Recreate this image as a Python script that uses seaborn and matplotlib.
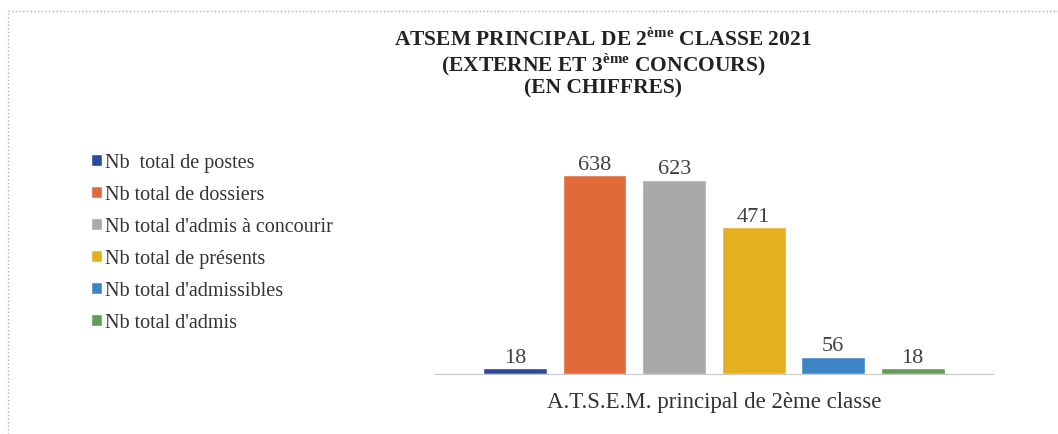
import pandas as pd
import seaborn as sns
import matplotlib.pyplot as plt
from matplotlib.lines import Line2D

# Donnees
categorie = ["A.T.S.E.M. principal de 2ème classe"]
series = ["Nb  total de postes", "Nb total de dossiers", "Nb total d'admis à concourir",
          "Nb total de présents", "Nb total d'admissibles", "Nb total d'admis"]
valeurs = [18, 638, 623, 471, 56, 18]
couleurs = ["#2B4A9B", "#E2693A", "#A9A9A9", "#E5B01F", "#3D84C6", "#5E9E55"]

df = pd.DataFrame({"categorie": categorie * len(series), "serie": series, "valeur": valeurs})

sns.set_style("white")
plt.rcParams['font.family'] = ['Liberation Serif', 'DejaVu Serif']
plt.rcParams['mathtext.fontset'] = 'custom'
plt.rcParams['mathtext.rm'] = 'Liberation Serif'
plt.rcParams['mathtext.bf'] = 'Liberation Serif:bold'

fig = plt.figure(figsize=(10.58, 4.35), dpi=100)
ax = fig.add_axes([0.411, 0.138, 0.5276, 0.5018])

sns.barplot(data=df, x="categorie", y="valeur", hue="serie", hue_order=series,
            palette=couleurs, width=0.8, gap=0.2, saturation=1, ax=ax)

for c in ax.containers:
    ax.bar_label(c, fontsize=16, padding=1, color="#404040")

ax.set_xlim(-0.468, 0.468)
ax.set_ylim(0, 700)
ax.set_xlabel("")
ax.set_ylabel("")
ax.set_yticks([])
ax.tick_params(axis="x", length=0, labelsize=16.5, pad=12, labelcolor="#333333")
for s in ["top", "right", "left"]:
    ax.spines[s].set_visible(False)
ax.spines["bottom"].set_color("#c8c8c8")

sns.move_legend(ax, "upper left", bbox_to_anchor=(0.0685, 0.6865), bbox_transform=fig.transFigure,
                frameon=False, title=None, fontsize=14.5, handlelength=0.55, handleheight=0.55,
                handletextpad=0.15, labelspacing=0.64, labelcolor="#333333")

# Titre
titre = [r"ATSEM PRINCIPAL DE 2$^{\mathbf{ème}}$ CLASSE 2021",
         r"(EXTERNE ET 3$^{\mathbf{ème}}$ CONCOURS)",
         "(EN CHIFFRES)"]
for ligne, y in zip(titre, [0.908, 0.852, 0.797]):
    fig.text(0.57, y, ligne, ha="center", va="center", fontsize=15.5,
             fontweight="bold", color="#222222")

# Cadre pointille
fig.add_artist(Line2D([0.0076, 1.0], [0.972, 0.972], color="#b0b0b0", lw=1, ls=":"))
fig.add_artist(Line2D([0.0076, 0.0076], [0.0, 0.972], color="#b0b0b0", lw=1, ls=":"))

fig.savefig("out.png", dpi=100)
